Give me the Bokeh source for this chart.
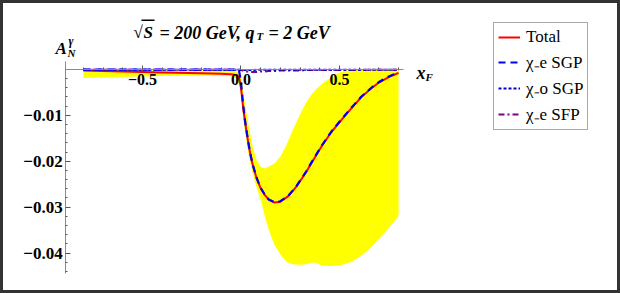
from bokeh.plotting import figure
from bokeh.models import Range1d, FixedTicker, Label, Legend, LegendItem, BoxAnnotation
from bokeh.embed import file_html
from bokeh.resources import INLINE

# ---------------- data ----------------
xc = [-0.8, -0.6, -0.4, -0.2, -0.1, -0.05, -0.02, -0.01, 0.0, 0.01, 0.02, 0.03, 0.04, 0.05,
      0.06, 0.08, 0.1, 0.12, 0.14, 0.17, 0.2, 0.24, 0.28, 0.33, 0.37, 0.41, 0.46, 0.51,
      0.56, 0.61, 0.66, 0.7, 0.75, 0.8]
total = [-0.0003, -0.0005, -0.0007, -0.0009, -0.0010, -0.0011, -0.0013, -0.0018, -0.0040,
         -0.0080, -0.0113, -0.0141, -0.0168, -0.0190, -0.0209, -0.0238, -0.0259, -0.0273,
         -0.0283, -0.0290, -0.0288, -0.0276, -0.0256, -0.0224, -0.0195, -0.0167, -0.0136,
         -0.0110, -0.0085, -0.0061, -0.0042, -0.0029, -0.0017, -0.0008]
sgp_e = [-0.0001, -0.0001, -0.0001, -0.0001, -0.0001, -0.0001, -0.0001, -0.0003, -0.0028,
         -0.0074, -0.0110, -0.0139, -0.0166, -0.0189, -0.0208, -0.0237, -0.0258, -0.0272,
         -0.0283, -0.0289, -0.0287, -0.0275, -0.0255, -0.0223, -0.0194, -0.0166, -0.0135,
         -0.0109, -0.0084, -0.0060, -0.0041, -0.0028, -0.0016, -0.0007]
sgp_o = [-0.0001, -0.0001, -0.0001, -0.0001, -0.0001, -0.0001, -0.0001, -0.0001, -0.0002,
         -0.0002, -0.0002, -0.0002, -0.0002, -0.0002, -0.0002, -0.0001, -0.0001, -0.0001,
         -0.0001, -0.0001, -0.0001, -0.0001, -0.0001, -0.0001, -0.0001, -0.0001, -0.0001,
         -0.0001, -0.0001, -0.0001, -0.0001, -0.0001, -0.0001, -0.0001]
sfp_e = [-0.0001, -0.0001, -0.0001, -0.0001, -0.0001, -0.0001, -0.0001, -0.0001, -0.0002,
         -0.0003, -0.0004, -0.0005, -0.0005, -0.0006, -0.0006, -0.0006, -0.0005, -0.0005,
         -0.0004, -0.0004, -0.0003, -0.0003, -0.0003, -0.0002, -0.0002, -0.0002, -0.0002,
         -0.0002, -0.0002, -0.0002, -0.0001, -0.0001, -0.0001, -0.0001]

xb = [-0.8, -0.6, -0.4, -0.2, -0.1, -0.04, -0.02, -0.01, 0.0, 0.01, 0.02, 0.03, 0.04, 0.06,
      0.08, 0.1, 0.12, 0.14, 0.17, 0.2, 0.23, 0.26, 0.3, 0.33, 0.36, 0.38, 0.41, 0.45, 0.5,
      0.56, 0.6, 0.65, 0.7, 0.75, 0.8]
band_hi = [-0.0003, -0.0003, -0.0003, -0.0003, -0.0003, -0.0004, -0.0005, -0.0008, -0.0015,
           -0.0045, -0.0075, -0.0100, -0.0125, -0.0170, -0.0198, -0.0212, -0.0216, -0.0212,
           -0.0205, -0.0190, -0.0166, -0.0135, -0.0098, -0.0073, -0.0054, -0.0044, -0.0032,
           -0.0020, -0.0007, 0.0, 0.0, 0.0, 0.0, 0.0, 0.0]
band_lo = [-0.0019, -0.0017, -0.0015, -0.0014, -0.0014, -0.0016, -0.0022, -0.0035, -0.0055,
           -0.0100, -0.0135, -0.0163, -0.0190, -0.0228, -0.0258, -0.0283, -0.0318, -0.0348,
           -0.0382, -0.0403, -0.0418, -0.0424, -0.0425, -0.0424, -0.0420, -0.0421, -0.0427,
           -0.0428, -0.0427, -0.0419, -0.0409, -0.0392, -0.0369, -0.0346, -0.0319]

xtick_vals = [-0.5, 0.0, 0.5]
xtick_labels = ["\u22120.5", "0.0", "0.5"]
xminor_vals = [-0.8, -0.7, -0.6, -0.4, -0.3, -0.2, -0.1, 0.1, 0.2, 0.3, 0.4, 0.6, 0.7, 0.8]
ytick_vals = [-0.04, -0.03, -0.02, -0.01]
ytick_labels = ["\u22120.04", "\u22120.03", "\u22120.02", "\u22120.01"]
yminor_vals = [-0.044, -0.042, -0.038, -0.036, -0.034, -0.032, -0.028, -0.026, -0.024,
               -0.022, -0.018, -0.016, -0.014, -0.012, -0.008, -0.006, -0.004, -0.002]

series_labels = ["Total", "\u03c7\u208be SGP", "\u03c7\u208bo SGP", "\u03c7\u208be SFP"]

# ---------------- figure ----------------
W, H = 620, 293
p = figure(width=W, height=H, output_backend="svg", toolbar_location=None,
           x_range=Range1d(-1.2208, 1.9264), y_range=Range1d(-0.048761, 0.014935),
           min_border=0, min_border_left=0, min_border_right=0,
           min_border_top=0, min_border_bottom=0)
p.grid.visible = False
p.background_fill_color = "white"
p.border_fill_color = "white"
p.outline_line_color = "#333333"
p.outline_line_width = 5

SERIF = "Liberation Serif"

xa = p.xaxis[0]
xa.fixed_location = 0
xa.bounds = (-0.89, 0.825)
xa.ticker = FixedTicker(ticks=xtick_vals, minor_ticks=xminor_vals)
xa.major_label_overrides = dict(zip(xtick_vals, xtick_labels))
xa.axis_line_color = "#8a8a8a"
xa.major_tick_line_color = "#555555"
xa.minor_tick_line_color = "#555555"
xa.major_tick_in = 4
xa.major_tick_out = 0
xa.minor_tick_in = 2
xa.minor_tick_out = 0
xa.major_label_standoff = 5
xa.major_label_text_font = SERIF
xa.major_label_text_font_style = "bold"
xa.major_label_text_font_size = "16px"
xa.major_label_text_color = "black"

ya = p.yaxis[0]
ya.fixed_location = -0.89
ya.bounds = (-0.0445, 0.0017)
ya.ticker = FixedTicker(ticks=ytick_vals, minor_ticks=yminor_vals)
ya.major_label_overrides = dict(zip(ytick_vals, ytick_labels))
ya.axis_line_color = "#8a8a8a"
ya.major_tick_line_color = "#555555"
ya.minor_tick_line_color = "#555555"
ya.major_tick_in = 5
ya.major_tick_out = 0
ya.minor_tick_in = 2
ya.minor_tick_out = 0
ya.major_label_standoff = 3
ya.major_label_text_font = SERIF
ya.major_label_text_font_style = "bold"
ya.major_label_text_font_size = "17px"
ya.major_label_text_color = "black"

# uncertainty band
p.varea(x=xb, y1=band_lo, y2=band_hi, fill_color="#FFFF00", fill_alpha=1.0)

r_tot = p.line(xc, total, line_color="#FF0000", line_width=2)
r_sfp = p.line(xc, sfp_e, line_color="#800080", line_width=2, line_dash="6 3 2 3")
r_sgo = p.line(xc, sgp_o, line_color="#0000CC", line_width=2, line_dash="3 2")
r_sge = p.line(xc, sgp_e, line_color="#0000FF", line_width=2.2, line_dash="7 5")

legend = Legend(items=[LegendItem(label=series_labels[0], renderers=[r_tot]),
                       LegendItem(label=series_labels[1], renderers=[r_sge]),
                       LegendItem(label=series_labels[2], renderers=[r_sgo]),
                       LegendItem(label=series_labels[3], renderers=[r_sfp])],
                location=(493, 163), margin=0, padding=4, spacing=3,
                glyph_width=22, glyph_height=20, label_height=20, label_standoff=6,
                label_text_font=SERIF, label_text_font_size="17px",
                label_text_color="black", border_line_color="#555555",
                border_line_width=1, background_fill_color="white", background_fill_alpha=1.0)
p.add_layout(legend, "center")


def lab(x, y, text, size, style="bold italic", **kw):
    p.add_layout(Label(x=x, y=y, x_units="screen", y_units="screen", text=text,
                       text_font=SERIF, text_font_style=style, text_font_size=size,
                       text_color="black", text_baseline="alphabetic", **kw))


# title: sqrt(S) = 200 GeV, q_T = 2 GeV
lab(133, 261, "\u221a", "17px", style="bold")
lab(143, 261, "S", "17px")
p.add_layout(BoxAnnotation(left=141, right=154, top=274, bottom=272.5,
                           left_units="screen", right_units="screen",
                           top_units="screen", bottom_units="screen",
                           fill_color="black", fill_alpha=1.0, line_color=None))
lab(159, 261, "= 200 GeV, q", "18px")
lab(256, 258, "T", "11px")
lab(268, 261, "= 2 GeV", "18px")

# y-axis label A_N^gamma
lab(55, 245, "A", "17px")
lab(67, 241, "N", "11px")
lab(68, 253, "\u03b3", "12px")

# x-axis label x_F
lab(416, 221, "x", "18px")
lab(425, 217, "F", "11px")

open("out.html", "w").write(file_html(p, INLINE))
